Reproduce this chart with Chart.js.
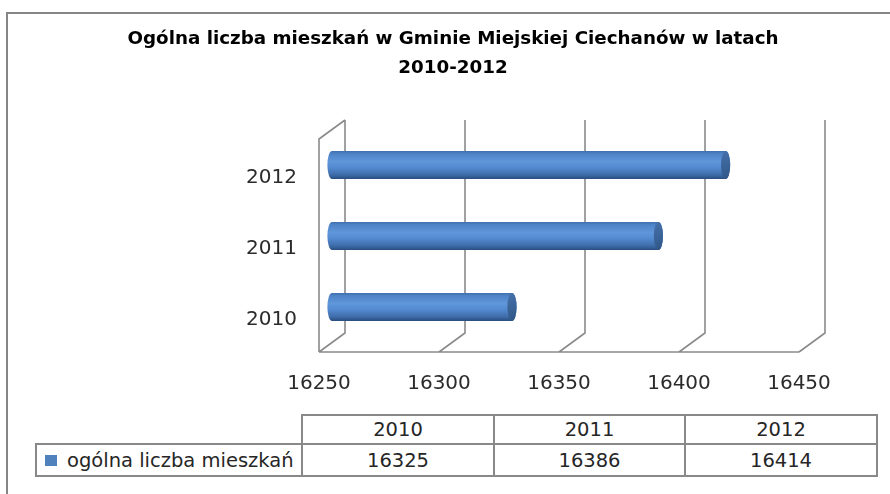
<!DOCTYPE html>
<html>
<head>
<meta charset="utf-8">
<script src="https://cdn.jsdelivr.net/npm/chart.js@4/dist/chart.umd.min.js"></script>
<style>
  html, body { margin: 0; padding: 0; background: #fff; overflow: hidden; }
  #wrap { position: relative; width: 890px; height: 494px; overflow: hidden; background: #fff; }
  #frame { position: absolute; left: 6px; top: 12px; width: 1000px; height: 1000px; border: 2px solid #868686; box-sizing: border-box; }
  #c { position: absolute; left: 0; top: 0; }
  .cell { position: absolute; box-sizing: border-box; border: 2px solid #898989; display: flex; align-items: center; justify-content: center;
          font-family: "DejaVu Sans", sans-serif; font-size: 19.5px; color: #262626; background: #fff; }
  .lab { justify-content: flex-start; padding-left: 30px; }
  .sq { position: absolute; left: 8px; top: 10px; width: 12px; height: 11px; background: #4f81bd; }
</style>
</head>
<body>
<div id="wrap">
  <div id="frame"></div>
  <canvas id="c" width="890" height="494"></canvas>
  <div id="table"></div>
</div>
<script>
// ---- data ----
const chartTitle = ['Ogólna liczba mieszkań w Gminie Miejskiej Ciechanów w latach', '2010-2012'];
const categories = ['2010', '2011', '2012'];
const populationValues = [16325, 16386, 16414];
const seriesLabel = 'ogólna liczba mieszkań';
const xTickValues = [16250, 16300, 16350, 16400, 16450];

// ---- 3D look parameters ----
const DEPTH_X = 26, DEPTH_Y = -19;
const GRID_COLOR = '#8a8a8a';

const wallsPlugin = {
  id: 'walls3d',
  beforeDatasetsDraw(chart) {
    const ctx = chart.ctx, a = chart.chartArea, xs = chart.scales.x;
    ctx.save();
    ctx.strokeStyle = GRID_COLOR;
    ctx.lineWidth = 1.6;
    ctx.beginPath();
    ctx.moveTo(a.left, a.bottom); ctx.lineTo(a.right, a.bottom);
    ctx.moveTo(a.left, a.bottom); ctx.lineTo(a.left, a.top);
    ctx.lineTo(a.left + DEPTH_X, a.top + DEPTH_Y);
    xTickValues.forEach(v => {
      const fx = xs.getPixelForValue(v);
      const bx = fx + DEPTH_X;
      ctx.moveTo(fx, a.bottom); ctx.lineTo(bx, a.bottom + DEPTH_Y);
      ctx.lineTo(bx, a.top + DEPTH_Y);
    });
    ctx.stroke();
    ctx.restore();
  },
  afterDatasetsDraw(chart) {
    const ctx = chart.ctx;
    const xs = chart.scales.x;
    const basePx = xs.getPixelForValue(xs.min);
    const meta = chart.getDatasetMeta(0);
    meta.data.forEach(el => {
      const h = el.height;
      const x0 = basePx + DEPTH_X / 2;
      const x1 = el.x + DEPTH_X / 2;
      const cy = el.y + DEPTH_Y / 2;
      const ry = h / 2, rx = 4.6;
      const top = cy - ry, bot = cy + ry;
      ctx.save();
      const g = ctx.createLinearGradient(0, top, 0, bot);
      g.addColorStop(0, '#3f6fae');
      g.addColorStop(0.1, '#4e83c7');
      g.addColorStop(0.38, '#6096da');
      g.addColorStop(0.6, '#5389cf');
      g.addColorStop(0.85, '#3e6ca8');
      g.addColorStop(1, '#294d80');
      ctx.fillStyle = g;
      ctx.beginPath();
      ctx.moveTo(x1, top);
      ctx.lineTo(x0, top);
      ctx.ellipse(x0, cy, rx, ry, 0, -Math.PI / 2, Math.PI / 2, true);
      ctx.lineTo(x1, bot);
      ctx.ellipse(x1, cy, rx, ry, 0, Math.PI / 2, -Math.PI / 2, true);
      ctx.closePath();
      ctx.fill();
      const cg = ctx.createLinearGradient(x1 - rx, top, x1 + rx, bot);
      cg.addColorStop(0, '#4671ab');
      cg.addColorStop(1, '#2f5686');
      ctx.fillStyle = cg;
      ctx.beginPath();
      ctx.ellipse(x1, cy, rx, ry, 0, 0, Math.PI * 2);
      ctx.fill();
      ctx.restore();
    });
  }
};

const chart = new Chart(document.getElementById('c'), {
  type: 'bar',
  data: {
    labels: categories,
    datasets: [{
      label: seriesLabel,
      data: populationValues,
      backgroundColor: 'rgba(0,0,0,0)',
      borderWidth: 0,
      barThickness: 28
    }]
  },
  options: {
    indexAxis: 'y',
    responsive: false,
    animation: false,
    devicePixelRatio: 1,
    layout: { padding: { left: 107, right: 91, top: 0, bottom: 0 } },
    plugins: {
      legend: { display: false },
      tooltip: { enabled: false },
      title: {
        display: true,
        text: chartTitle,
        color: '#000',
        font: { family: 'DejaVu Sans', size: 18.3, weight: 'bold', lineHeight: 29 / 18.3 },
        padding: { top: 25, bottom: 56 }
      }
    },
    scales: {
      x: {
        type: 'linear',
        min: xTickValues[0],
        max: xTickValues[xTickValues.length - 1],
        afterBuildTicks: s => { s.ticks = xTickValues.map(v => ({ value: v })); },
        afterFit: s => { s.height = 142; },
        grid: { display: false, drawTicks: false },
        border: { display: false },
        ticks: { color: '#2b2b2b', padding: 20, font: { family: 'DejaVu Sans', size: 20 }, maxRotation: 0, autoSkip: false,
                 callback: v => String(v) }
      },
      y: {
        reverse: true,
        afterFit: s => { s.width = 212; },
        grid: { display: false, drawTicks: false },
        border: { display: false },
        ticks: { color: '#2b2b2b', padding: 22, labelOffset: 3, font: { family: 'DejaVu Sans', size: 20 } }
      }
    }
  },
  plugins: [wallsPlugin]
});

// ---- data table (built from the same arrays) ----
(function buildTable() {
  const t = document.getElementById('table');
  const colX = [36, 302, 494, 685, 877];
  const rowY = [415, 444, 476];
  function cell(x0, y0, x1, y1, html, cls) {
    const d = document.createElement('div');
    d.className = 'cell' + (cls ? ' ' + cls : '');
    d.style.left = (x0 - 1) + 'px';
    d.style.top = (y0 - 1) + 'px';
    d.style.width = (x1 - x0 + 2) + 'px';
    d.style.height = (y1 - y0 + 2) + 'px';
    d.innerHTML = html;
    t.appendChild(d);
  }
  categories.forEach((c, i) => {
    cell(colX[i + 1], rowY[0], colX[i + 2], rowY[1], c);
  });
  cell(colX[0], rowY[1], colX[1], rowY[2], '<span class="sq"></span>' + seriesLabel, 'lab');
  populationValues.forEach((v, i) => {
    cell(colX[i + 1], rowY[1], colX[i + 2], rowY[2], String(v));
  });
})();
</script>
</body>
</html>
